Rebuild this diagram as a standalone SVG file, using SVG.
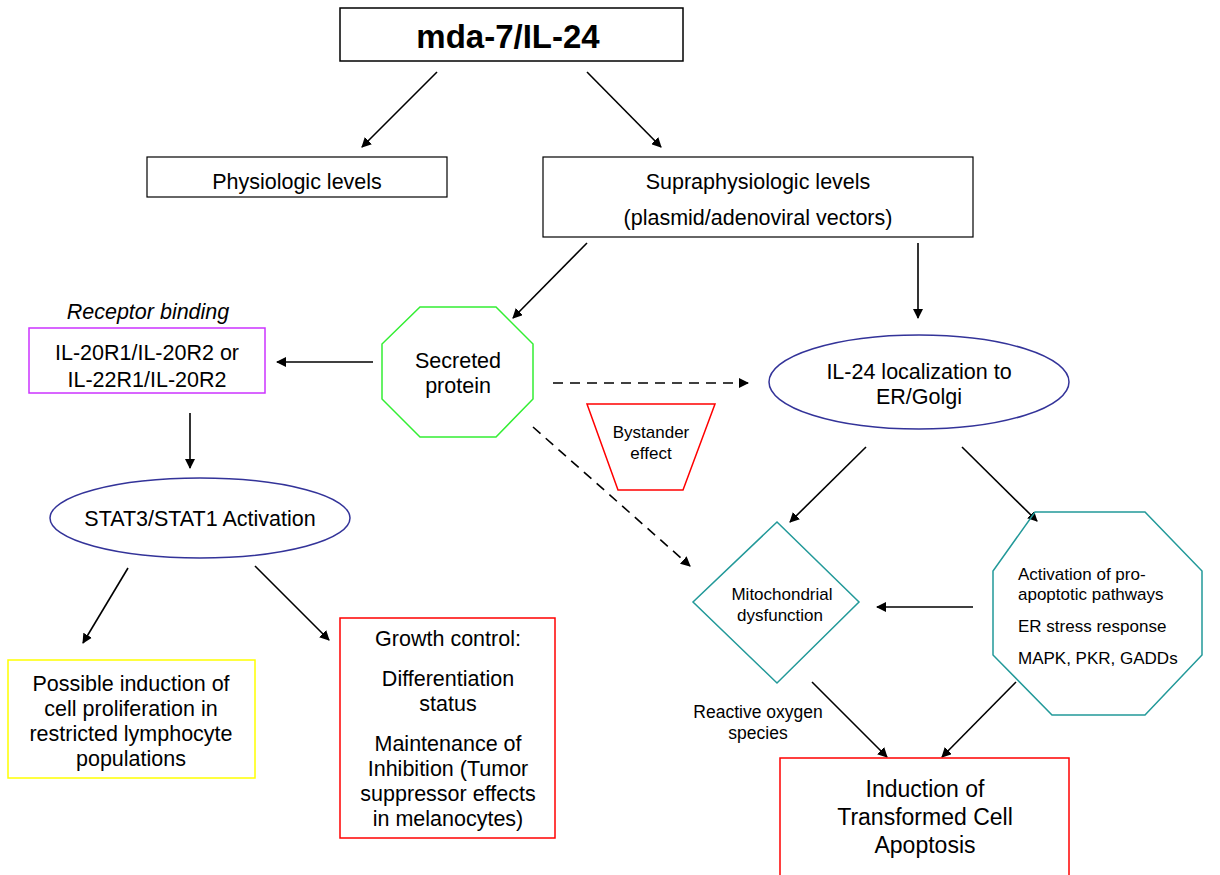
<svg xmlns="http://www.w3.org/2000/svg" width="1220" height="875" viewBox="0 0 1220 875">
<defs>
<marker id="ah" viewBox="0 0 10 10" refX="9" refY="5" markerWidth="10" markerHeight="10" markerUnits="userSpaceOnUse" orient="auto">
<path d="M0,0 L10,5 L0,10 z" fill="#000"/>
</marker>
<style>
text{font-family:"Liberation Sans",Arial,sans-serif;fill:#000;text-anchor:middle}
.c{stroke:#000;stroke-width:1.6;fill:none;marker-end:url(#ah)}
.d{stroke-dasharray:10 7}
.m{font-size:21.5px}
.s{font-size:17px}
.p{font-size:17px;text-anchor:start}
</style>
</defs>
<rect width="1220" height="875" fill="#fff"/>

<g id="connectors">
<line class="c" x1="437" y1="72" x2="362" y2="147"/>
<line class="c" x1="587" y1="72" x2="661" y2="147"/>
<line class="c" x1="587" y1="243" x2="513" y2="318"/>
<line class="c" x1="918" y1="243" x2="918" y2="318"/>
<line class="c" x1="373" y1="362" x2="277" y2="362"/>
<line class="c d" x1="553" y1="383" x2="748" y2="383"/>
<line class="c d" x1="533" y1="427" x2="690" y2="566"/>
<line class="c" x1="190" y1="413" x2="190" y2="468"/>
<line class="c" x1="128" y1="568" x2="83" y2="643"/>
<line class="c" x1="255" y1="566" x2="329" y2="640"/>
<line class="c" x1="866" y1="447" x2="790" y2="522"/>
<line class="c" x1="962" y1="447" x2="1037" y2="521"/>
<line class="c" x1="973" y1="607" x2="877" y2="607"/>
<line class="c" x1="812" y1="682" x2="887" y2="757"/>
<line class="c" x1="1016" y1="682" x2="942" y2="757"/>
</g>

<g id="mda7">
<rect x="340" y="8" width="343" height="53" fill="none" stroke="#000" stroke-width="1.5"/>
<text x="508" y="48" font-size="33" font-weight="bold">mda-7/IL-24</text>
</g>

<g id="physiologic">
<rect x="147" y="157" width="300" height="40" fill="none" stroke="#000" stroke-width="1.2"/>
<text class="m" x="297" y="189">Physiologic levels</text>
</g>

<g id="supraphysiologic">
<rect x="543" y="157" width="430" height="80" fill="none" stroke="#000" stroke-width="1.2"/>
<text class="m" x="758" y="189">Supraphysiologic levels</text>
<text class="m" x="758" y="225">(plasmid/adenoviral vectors)</text>
</g>

<g id="receptor">
<text class="m" x="148" y="319" font-style="italic">Receptor binding</text>
<rect x="29" y="328" width="236" height="65" fill="none" stroke="#cc33ff" stroke-width="1.5"/>
<text class="m" x="147" y="360">IL-20R1/IL-20R2 or</text>
<text class="m" x="147" y="387">IL-22R1/IL-20R2</text>
</g>

<g id="secreted">
<polygon points="420,307 496,307 533,344 533,399 496,437 420,437 382,399 382,344" fill="none" stroke="#33ee33" stroke-width="1.5"/>
<text class="m" x="458" y="368">Secreted</text>
<text class="m" x="458" y="393">protein</text>
</g>

<g id="bystander">
<polygon points="587,404 715,404 683,490 618,490" fill="none" stroke="#ff0000" stroke-width="1.5"/>
<text class="s" x="651" y="438">Bystander</text>
<text class="s" x="651" y="459">effect</text>
</g>

<g id="il24er">
<ellipse cx="919" cy="382" rx="150" ry="47" fill="none" stroke="#333399" stroke-width="1.5"/>
<text class="m" x="919" y="379">IL-24 localization to</text>
<text class="m" x="919" y="404">ER/Golgi</text>
</g>

<g id="stat">
<ellipse cx="200" cy="518" rx="150" ry="40" fill="none" stroke="#333399" stroke-width="1.5"/>
<text class="m" x="200" y="526" font-size="22">STAT3/STAT1 Activation</text>
</g>

<g id="proliferation">
<rect x="8" y="660" width="247" height="118" fill="none" stroke="#ffff00" stroke-width="1.5"/>
<text class="m" x="131" y="691">Possible induction of</text>
<text class="m" x="131" y="716">cell proliferation in</text>
<text class="m" x="131" y="741">restricted lymphocyte</text>
<text class="m" x="131" y="766">populations</text>
</g>

<g id="growth">
<rect x="340" y="618" width="215" height="220" fill="none" stroke="#ff0000" stroke-width="1.5"/>
<text class="m" x="448" y="646">Growth control:</text>
<text class="m" x="448" y="686">Differentiation</text>
<text class="m" x="448" y="711">status</text>
<text class="m" x="448" y="751">Maintenance of</text>
<text class="m" x="448" y="776">Inhibition (Tumor</text>
<text class="m" x="448" y="801">suppressor effects</text>
<text class="m" x="448" y="826">in melanocytes)</text>
</g>

<g id="mito">
<polygon points="777,522 859,602 777,683 693,602" fill="none" stroke="#229999" stroke-width="1.5"/>
<text class="s" x="782" y="600">Mitochondrial</text>
<text class="s" x="780" y="621">dysfunction</text>
</g>

<g id="proapoptotic">
<polygon points="1035,512 1145,512 1202,571 1202,655 1145,715 1052,715 993,655 993,571" fill="none" stroke="#229999" stroke-width="1.5"/>
<text class="p" x="1018" y="580">Activation of pro-</text>
<text class="p" x="1018" y="600">apoptotic pathways</text>
<text class="p" x="1018" y="632">ER stress response</text>
<text class="p" x="1018" y="664">MAPK, PKR, GADDs</text>
</g>

<g id="ros">
<text x="758" y="718" font-size="17.5">Reactive oxygen</text>
<text x="758" y="739" font-size="17.5">species</text>
</g>

<g id="apoptosis">
<rect x="780" y="758" width="289" height="125" fill="none" stroke="#ff0000" stroke-width="1.5"/>
<text x="925" y="797" font-size="23">Induction of</text>
<text x="925" y="825" font-size="23">Transformed Cell</text>
<text x="925" y="853" font-size="23">Apoptosis</text>
</g>
</svg>
